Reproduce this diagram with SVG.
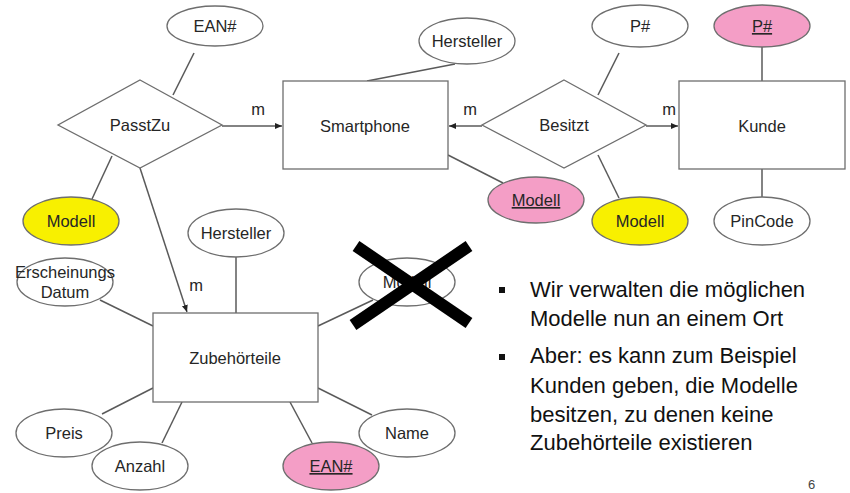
<svg xmlns="http://www.w3.org/2000/svg" width="850" height="493" viewBox="0 0 850 493">
<defs>
<style>
text{font-family:"Liberation Sans",Arial,sans-serif;fill:#262626}
.n{font-size:16.5px;text-anchor:middle}
.b{font-size:22px;fill:#111}
.sh{fill:#fff;stroke:#6e6e6e;stroke-width:1.3}
.pk{fill:#f49ec6;stroke:#6e6e6e;stroke-width:1.3}
.ye{fill:#f8f000;stroke:#6e6e6e;stroke-width:1.3}
.ln{stroke:#5a5a5a;stroke-width:1.5;fill:none}
.u{text-decoration:underline}
</style>
<marker id="ah" markerWidth="8" markerHeight="8" refX="7" refY="4" orient="auto" markerUnits="userSpaceOnUse">
<path d="M0,1 L7,4 L0,7 Z" fill="#222"/>
</marker>
</defs>
<rect width="850" height="493" fill="#fff"/>
<g id="connectors">
<line class="ln" x1="194" y1="53" x2="173" y2="95"/>
<line class="ln" x1="222" y1="126" x2="282" y2="126" marker-end="url(#ah)"/>
<line class="ln" x1="112" y1="156" x2="92" y2="199"/>
<line class="ln" x1="140" y1="168" x2="187" y2="312" marker-end="url(#ah)"/>
<line class="ln" x1="455" y1="64" x2="367" y2="81"/>
<line class="ln" x1="482" y1="126" x2="449" y2="126" marker-end="url(#ah)"/>
<line class="ln" x1="646" y1="126" x2="678" y2="126" marker-end="url(#ah)"/>
<line class="ln" x1="448" y1="155" x2="503" y2="183"/>
<line class="ln" x1="619" y1="53" x2="598" y2="95"/>
<line class="ln" x1="762" y1="47" x2="762" y2="81"/>
<line class="ln" x1="598" y1="155" x2="619" y2="198"/>
<line class="ln" x1="762" y1="169" x2="762" y2="197"/>
<line class="ln" x1="236" y1="257" x2="236" y2="313"/>
<line class="ln" x1="100" y1="300" x2="153" y2="326"/>
<line class="ln" x1="318" y1="326" x2="373" y2="300"/>
<line class="ln" x1="102" y1="414" x2="153" y2="388"/>
<line class="ln" x1="162" y1="443" x2="182" y2="402"/>
<line class="ln" x1="312" y1="443" x2="290" y2="402"/>
<line class="ln" x1="372" y1="415" x2="318" y2="388"/>
</g>
<g id="lbl-m">
<text class="n" x="258" y="115">m</text>
<text class="n" x="470" y="115">m</text>
<text class="n" x="669" y="115">m</text>
<text class="n" x="196" y="291">m</text>
</g>
<g id="ean-top"><ellipse class="sh" cx="215" cy="26" rx="48" ry="20"/><text class="n" x="215" y="32">EAN#</text></g>
<g id="passtzu"><polygon class="sh" points="140,80 222,125 140,168 58,125"/><text class="n" x="140" y="131">PasstZu</text></g>
<g id="modell-y1"><ellipse class="ye" cx="71" cy="221" rx="48" ry="24"/><text class="n" x="71" y="227">Modell</text></g>
<g id="smartphone"><rect class="sh" x="283" y="81" width="165" height="88"/><text class="n" x="365" y="132">Smartphone</text></g>
<g id="hersteller-top"><ellipse class="sh" cx="467" cy="41" rx="48" ry="23"/><text class="n" x="467" y="47">Hersteller</text></g>
<g id="modell-pk"><ellipse class="pk" cx="536" cy="200" rx="48" ry="23"/><text class="n u" x="536" y="206">Modell</text></g>
<g id="besitzt"><polygon class="sh" points="564,80 646,125 564,168 482,125"/><text class="n" x="564" y="131">Besitzt</text></g>
<g id="p-top"><ellipse class="sh" cx="640" cy="26" rx="48" ry="21"/><text class="n" x="640" y="32">P#</text></g>
<g id="p-key"><ellipse class="pk" cx="762" cy="26" rx="48" ry="21"/><text class="n u" x="762" y="32">P#</text></g>
<g id="kunde"><rect class="sh" x="679" y="81" width="166" height="88"/><text class="n" x="762" y="132">Kunde</text></g>
<g id="modell-y2"><ellipse class="ye" cx="640" cy="221" rx="48" ry="24"/><text class="n" x="640" y="227">Modell</text></g>
<g id="pincode"><ellipse class="sh" cx="762" cy="221" rx="48" ry="24"/><text class="n" x="762" y="227">PinCode</text></g>
<g id="hersteller-z"><ellipse class="sh" cx="236" cy="233" rx="48" ry="24"/><text class="n" x="236" y="239">Hersteller</text></g>
<g id="erscheinungsdatum"><ellipse class="sh" cx="65" cy="282" rx="48" ry="24"/><text class="n" x="65" y="278">Erscheinungs</text><text class="n" x="65" y="298">Datum</text></g>
<g id="zubehoerteile"><rect class="sh" x="153" y="313" width="165" height="89"/><text class="n" x="235" y="364">Zubehörteile</text></g>
<g id="modell-x"><ellipse class="sh" cx="407" cy="282" rx="48" ry="24"/><text class="n" x="407" y="288">Modell</text></g>
<g id="preis"><ellipse class="sh" cx="64" cy="433" rx="48" ry="24"/><text class="n" x="64" y="439">Preis</text></g>
<g id="anzahl"><ellipse class="sh" cx="140" cy="466" rx="48" ry="24"/><text class="n" x="140" y="472">Anzahl</text></g>
<g id="ean-key"><ellipse class="pk" cx="331" cy="466" rx="48" ry="24"/><text class="n u" x="331" y="472">EAN#</text></g>
<g id="name"><ellipse class="sh" cx="407" cy="433" rx="48" ry="24"/><text class="n" x="407" y="439">Name</text></g>
<g id="cross">
<line x1="356" y1="246" x2="469" y2="323" stroke="#000" stroke-width="12"/>
<line x1="469" y1="246" x2="353" y2="325" stroke="#000" stroke-width="12"/>
</g>
<g id="notes">
<rect x="499" y="287" width="6" height="6" fill="#111"/>
<rect x="499" y="354" width="6" height="6" fill="#111"/>
<text class="b" x="530" y="297">Wir verwalten die möglichen</text>
<text class="b" x="530" y="326">Modelle nun an einem Ort</text>
<text class="b" x="530" y="363">Aber: es kann zum Beispiel</text>
<text class="b" x="530" y="393">Kunden geben, die Modelle</text>
<text class="b" x="530" y="422">besitzen, zu denen keine</text>
<text class="b" x="530" y="450">Zubehörteile existieren</text>
<text x="808" y="489" style="font-size:13px;fill:#444">6</text>
</g>
</svg>
